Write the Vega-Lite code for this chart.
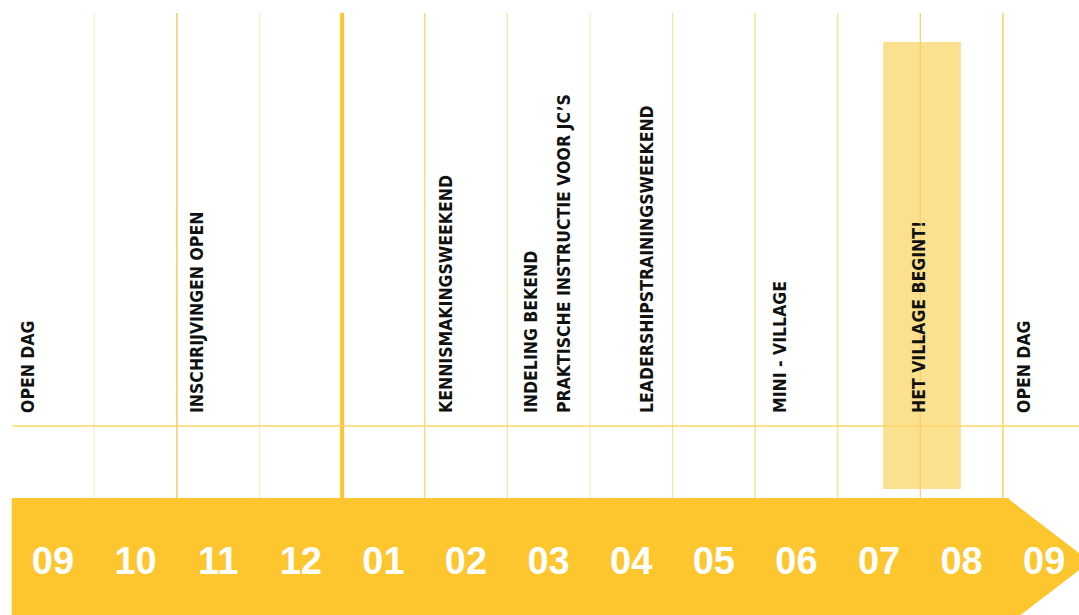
{
  "$schema": "https://vega.github.io/schema/vega-lite/v6.json",
  "width": 1079,
  "height": 615,
  "autosize": {"type": "none"},
  "padding": 0,
  "background": "white",
  "config": {"view": {"stroke": null}},
  "datasets": {
    "months": [
      {"m": 0, "label": "09"}, {"m": 1, "label": "10"}, {"m": 2, "label": "11"},
      {"m": 3, "label": "12"}, {"m": 4, "label": "01"}, {"m": 5, "label": "02"},
      {"m": 6, "label": "03"}, {"m": 7, "label": "04"}, {"m": 8, "label": "05"},
      {"m": 9, "label": "06"}, {"m": 10, "label": "07"}, {"m": 11, "label": "08"},
      {"m": 12, "label": "09"}
    ],
    "boundaries": [
      {"b": 0.5}, {"b": 1.5}, {"b": 2.5}, {"b": 4.5}, {"b": 5.5}, {"b": 6.5},
      {"b": 7.5}, {"b": 8.5}, {"b": 9.5}, {"b": 10.5}, {"b": 11.5}
    ],
    "yearBoundary": [{"b": 3.5}],
    "timeline": [{"start": -0.5, "end": 11.574}],
    "events": [
      {"m": -0.29, "label": "OPEN DAG"},
      {"m": 1.755, "label": "INSCHRIJVINGEN OPEN"},
      {"m": 4.77, "label": "KENNISMAKINGSWEEKEND"},
      {"m": 5.8, "label": "INDELING BEKEND\nPRAKTISCHE INSTRUCTIE VOOR JC’S"},
      {"m": 7.2, "label": "LEADERSHIPSTRAININGSWEEKEND"},
      {"m": 8.81, "label": "MINI - VILLAGE"},
      {"m": 10.5, "label": "HET VILLAGE BEGINT!"},
      {"m": 11.77, "label": "OPEN DAG"}
    ],
    "periods": [{"start": 10.05, "end": 10.99}]
  },
  "layer": [
    {
      "data": {"name": "periods"},
      "mark": {"type": "rect", "color": "#FBE08F"},
      "encoding": {
        "x": {"field": "start", "type": "quantitative", "axis": null, "scale": {"domain": [-0.6416, 12.421], "nice": false, "zero": false}},
        "x2": {"field": "end"},
        "y": {"datum": 42, "type": "quantitative", "axis": null, "scale": {"domain": [0, 615], "nice": false, "zero": false, "reverse": true}},
        "y2": {"datum": 489}
      }
    },
    {
      "data": {"name": "boundaries"},
      "mark": {"type": "rule", "strokeWidth": 1.3},
      "encoding": {
        "x": {"field": "b", "type": "quantitative", "axis": null},
        "y": {"datum": 13, "type": "quantitative", "axis": null},
        "y2": {"datum": 498},
        "color": {
          "field": "b", "type": "nominal", "legend": null,
          "scale": {
            "domain": [0.5, 1.5, 2.5, 4.5, 5.5, 6.5, 7.5, 8.5, 9.5, 10.5, 11.5],
            "range": ["#FCEDC8", "#F5C14A", "#FCEBBC", "#FBD773", "#FBE1A3", "#FDEBC2", "#FBDE98", "#FBD97F", "#FBDE95", "#F8D16A", "#FCCB45"]
          }
        }
      }
    },
    {
      "data": {"name": "yearBoundary"},
      "mark": {"type": "rule", "strokeWidth": 4, "color": "#FDC630"},
      "encoding": {
        "x": {"field": "b", "type": "quantitative", "axis": null},
        "y": {"datum": 13, "type": "quantitative", "axis": null},
        "y2": {"datum": 498}
      }
    },
    {
      "data": {"name": "timeline"},
      "mark": {"type": "rule", "strokeWidth": 1.6, "color": "#FDD566"},
      "encoding": {
        "x": {"datum": -0.49, "type": "quantitative", "axis": null},
        "x2": {"datum": 12.421},
        "y": {"datum": 426, "type": "quantitative", "axis": null}
      }
    },
    {
      "data": {"name": "timeline"},
      "mark": {"type": "rect", "color": "#FDC62F", "clip": true},
      "encoding": {
        "x": {"field": "start", "type": "quantitative", "axis": null},
        "x2": {"field": "end"},
        "y": {"datum": 498, "type": "quantitative", "axis": null},
        "y2": {"datum": 625}
      }
    },
    {
      "data": {"name": "timeline"},
      "mark": {"type": "point", "shape": "M-0.03,-1L1.276,0L-0.03,1Z", "size": 16180, "filled": true, "opacity": 1, "color": "#FDC62F", "strokeWidth": 0, "clip": true},
      "encoding": {
        "x": {"field": "end", "type": "quantitative", "axis": null},
        "y": {"datum": 561.6, "type": "quantitative", "axis": null}
      }
    },
    {
      "data": {"name": "months"},
      "mark": {"type": "text", "color": "white", "font": "Liberation Sans", "fontWeight": "bold", "fontSize": 38, "align": "center", "baseline": "alphabetic"},
      "encoding": {
        "x": {"field": "m", "type": "quantitative", "axis": null},
        "y": {"datum": 574, "type": "quantitative", "axis": null},
        "text": {"field": "label"}
      }
    },
    {
      "data": {"name": "events"},
      "mark": {"type": "text", "color": "#111111", "font": "DejaVu Sans Condensed", "fontWeight": "bold", "fontSize": 17.5, "angle": 270, "align": "left", "baseline": "middle", "lineBreak": "\n", "lineHeight": 33},
      "encoding": {
        "x": {"field": "m", "type": "quantitative", "axis": null},
        "y": {"datum": 413, "type": "quantitative", "axis": null},
        "text": {"field": "label"}
      }
    }
  ]
}
